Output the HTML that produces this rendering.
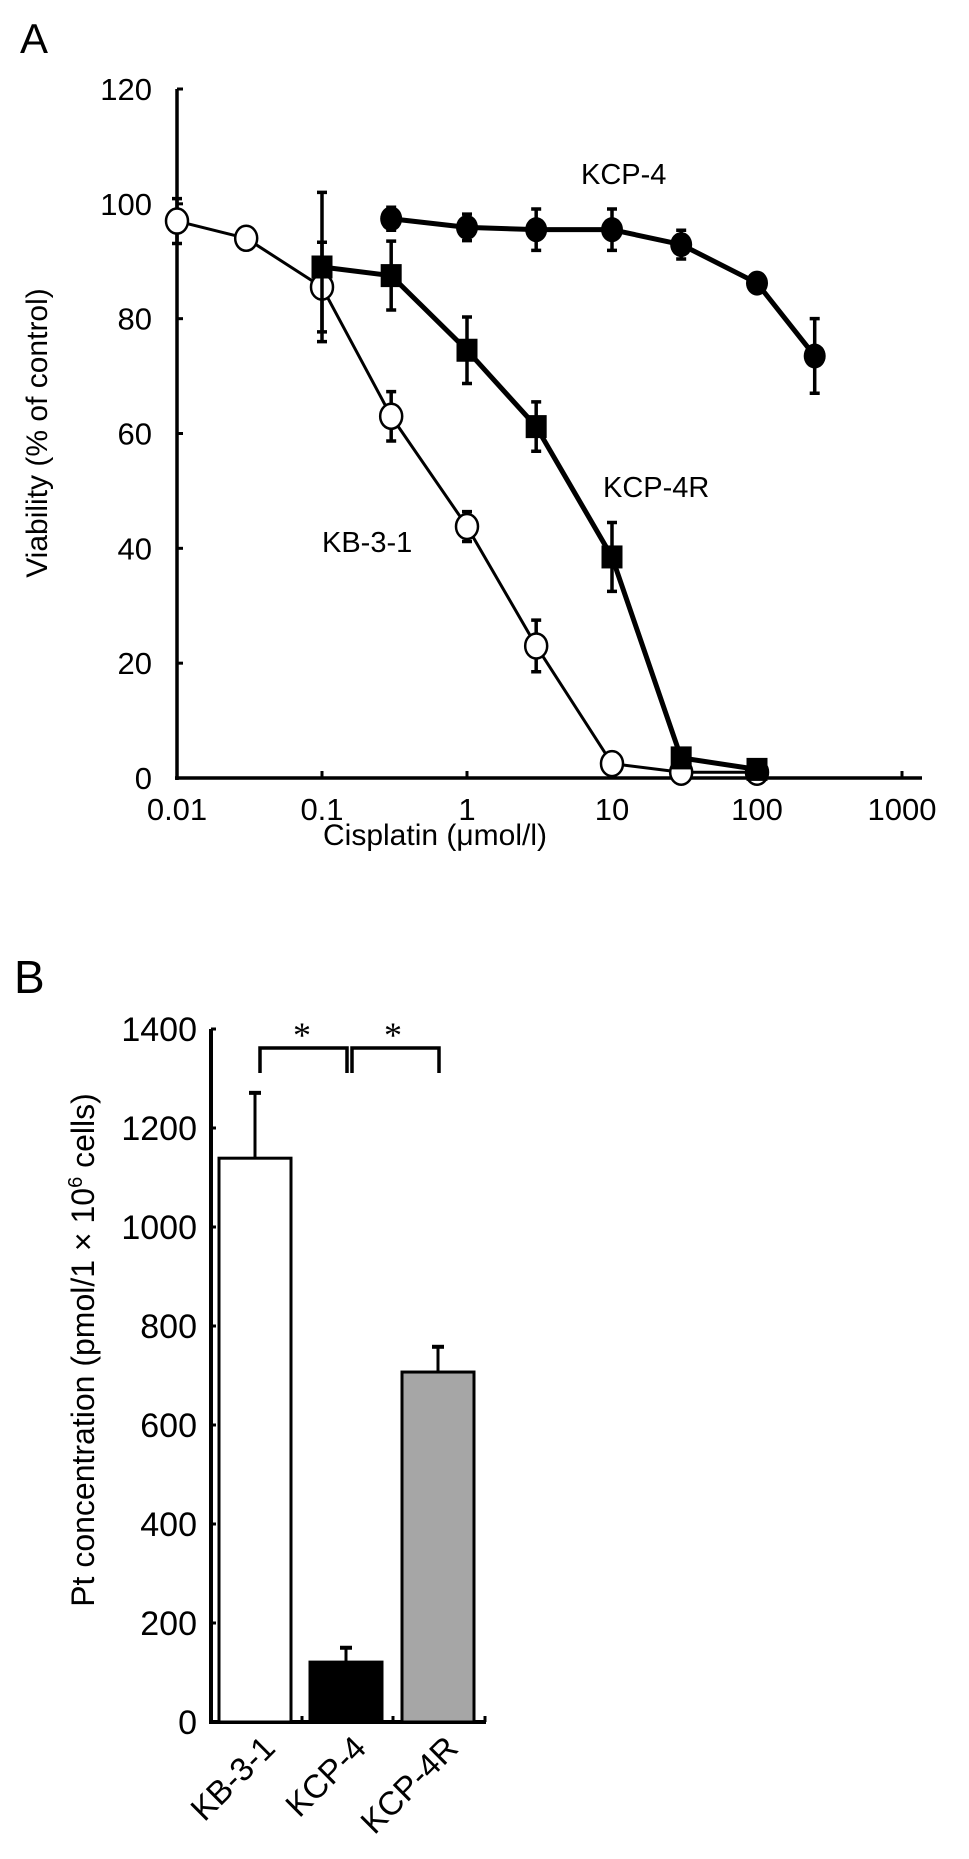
<!DOCTYPE html>
<html><head><meta charset="utf-8"><style>
body{margin:0;background:#fff}
svg{display:block}
text{font-family:"Liberation Sans",Arial,sans-serif;fill:#000}
</style></head><body>
<svg id="fig" width="969" height="1859" viewBox="0 0 969 1859" xmlns="http://www.w3.org/2000/svg">
<text x="20" y="53" font-size="42">A</text>
<text x="14" y="993" font-size="46">B</text>
<g id="pa"></g>
<g id="pb"></g>
</svg>
<script>
// ---------- Panel A data ----------
const xTicksA = [0.01, 0.1, 1, 10, 100, 1000];
const xTickLabelsA = ["0.01", "0.1", "1", "10", "100", "1000"];
const yTicksA = [0, 20, 40, 60, 80, 100, 120];
const kbDose = [0.01, 0.03, 0.1, 0.3, 1, 3, 10, 30, 100];
const kbVal = [97, 94, 85.5, 63, 43.8, 23, 2.5, 1, 1];
const kbErr = [3.9, 1.5, 7.8, 4.3, 2.6, 4.5, 0, 0, 0];
const kcp4rDose = [0.1, 0.3, 1, 3, 10, 30, 100];
const kcp4rVal = [89, 87.5, 74.5, 61.2, 38.5, 3.5, 1.5];
const kcp4rErr = [13, 6, 5.8, 4.3, 6, 0, 0];
const kcp4Dose = [0.3, 1, 3, 10, 30, 100, 250];
const kcp4Val = [97.4, 95.9, 95.5, 95.5, 92.9, 86.2, 73.5];
const kcp4Err = [2, 2.3, 3.6, 3.6, 2.5, 0.5, 6.5];
// ---------- Panel B data ----------
const barCats = ["KB-3-1", "KCP-4", "KCP-4R"];
const barVals = [1139, 121, 707];
const barErrs = [132, 29, 51];
const yTicksB = [0, 200, 400, 600, 800, 1000, 1200, 1400];

const NS = "http://www.w3.org/2000/svg";
function mk(parent, tag, attrs, txt) {
  const e = document.createElementNS(NS, tag);
  for (const k in attrs) e.setAttribute(k, attrs[k]);
  if (txt !== undefined) e.textContent = txt;
  parent.appendChild(e);
  return e;
}
// Panel A axes
const ax0 = 177, decade = 145, ay0 = 778, ayPer = (778 - 89) / 120;
const xA = v => ax0 + (Math.log10(v) + 2) * decade;
const yA = v => ay0 - v * ayPer;
const pa = document.getElementById("pa");
let e;
e = mk(pa, "line", {x1: ax0, y1: yA(120), x2: ax0, y2: ay0 + 2, stroke: "#000", "stroke-width": 3.5});


e = mk(pa, "line", {x1: ax0 - 2, y1: ay0, x2: xA(1000) + 20, y2: ay0, stroke: "#000", "stroke-width": 3.5});


yTicksA.forEach(v => {
  e = mk(pa, "line", {x1: ax0, y1: yA(v), x2: ax0 + 6, y2: yA(v), stroke: "#000", "stroke-width": 3});
  
  
  e = mk(pa, "text", {x: 152, y: yA(v) + 11, "font-size": 31, "text-anchor": "end"}, String(v));
  
  
});
xTicksA.forEach((v, i) => {
  e = mk(pa, "line", {x1: xA(v), y1: ay0, x2: xA(v), y2: ay0 - 7, stroke: "#000", "stroke-width": 3});
  
  
  e = mk(pa, "text", {x: xA(v), y: 820, "font-size": 31, "text-anchor": "middle"}, xTickLabelsA[i]);
  
  
});
e = mk(pa, "text", {x: 0, y: 0, "font-size": 30, "text-anchor": "middle", transform: "translate(47,433) rotate(-90)"}, "Viability (% of control)");


e = mk(pa, "text", {x: 435, y: 845, "font-size": 30, "text-anchor": "middle"}, "Cisplatin (μmol/l)");



function series(dose, val, err, lw, marker, name) {
  const g = mk(pa, "g", {});
  
  
  const pts = dose.map((d, i) => xA(d) + "," + yA(val[i])).join(" ");
  e = mk(g, "polyline", {points: pts, fill: "none", stroke: "#000", "stroke-width": lw, "stroke-linejoin": "round"});
  
  
  dose.forEach((d, i) => {
    if (err[i] > 0) {
      const x = xA(d), y1 = yA(val[i] - err[i]), y2 = yA(val[i] + err[i]);
      e = mk(g, "path", {d: `M${x},${y1}V${y2}M${x - 5},${y1}H${x + 5}M${x - 5},${y2}H${x + 5}`, stroke: "#000", "stroke-width": 3.5, fill: "none"});
      
      
    }
  });
  dose.forEach((d, i) => {
    const x = xA(d), y = yA(val[i]);
    if (marker === "open") e = mk(g, "ellipse", {cx: x, cy: y, rx: 11, ry: 12.5, fill: "#fff", stroke: "#000", "stroke-width": 2.5});
    else if (marker === "filled") e = mk(g, "ellipse", {cx: x, cy: y, rx: 11, ry: 12.5, fill: "#000"});
    else e = mk(g, "rect", {x: x - 10.5, y: y - 11.5, width: 21, height: 23, fill: "#000"});
    
    
  });
}
series(kbDose, kbVal, kbErr, 3, "open", "kb-3-1-series");
series(kcp4rDose, kcp4rVal, kcp4rErr, 5, "square", "kcp-4r-series");
series(kcp4Dose, kcp4Val, kcp4Err, 5, "filled", "kcp-4-series");
e = mk(pa, "text", {x: 581, y: 184, "font-size": 29}, "KCP-4");


e = mk(pa, "text", {x: 603, y: 497, "font-size": 29}, "KCP-4R");


e = mk(pa, "text", {x: 322, y: 552, "font-size": 29}, "KB-3-1");



// Panel B
const pb = document.getElementById("pb");
const bx0 = 211, by0 = 1722, byPer = 0.495;
const yB = v => by0 - v * byPer;
const barLeft = [219, 310, 402], barW = 72;
const fills = ["#fff", "#000", "#a6a6a6"];
e = mk(pb, "line", {x1: bx0, y1: yB(1400), x2: bx0, y2: by0 + 2, stroke: "#000", "stroke-width": 4});


e = mk(pb, "line", {x1: bx0 - 2, y1: by0, x2: 486, y2: by0, stroke: "#000", "stroke-width": 4});


[302, 393, 485].forEach(x => {
  e = mk(pb, "line", {x1: x, y1: by0, x2: x, y2: by0 - 6, stroke: "#000", "stroke-width": 3});
  
  
});
yTicksB.forEach(v => {
  e = mk(pb, "line", {x1: bx0, y1: yB(v), x2: bx0 + 5, y2: yB(v), stroke: "#000", "stroke-width": 3});
  
  
  e = mk(pb, "text", {x: 197, y: yB(v) + 12, "font-size": 34, "text-anchor": "end"}, String(v));
  
  
});
barCats.forEach((c, i) => {
  const x = barLeft[i], top = yB(barVals[i]), cx = x + barW / 2;
  e = mk(pb, "line", {x1: cx, y1: top, x2: cx, y2: yB(barVals[i] + barErrs[i]), stroke: "#000", "stroke-width": 3});
  
  
  e = mk(pb, "line", {x1: cx - 6, y1: yB(barVals[i] + barErrs[i]), x2: cx + 6, y2: yB(barVals[i] + barErrs[i]), stroke: "#000", "stroke-width": 4});
  
  
  e = mk(pb, "rect", {x: x, y: top, width: barW, height: by0 - top, fill: fills[i], stroke: "#000", "stroke-width": 3});
  
  
  e = mk(pb, "text", {x: 0, y: 0, "font-size": 33, "text-anchor": "end", transform: `translate(${cx + 22},${1750}) rotate(-45)`}, c);
  
  
});
e = mk(pb, "path", {d: "M260,1073V1048H347V1073M352,1073V1048H439V1073", fill: "none", stroke: "#000", "stroke-width": 3.5});


[302, 393].forEach(x => {
  e = mk(pb, "text", {x: x, y: 1047, "font-size": 36, "text-anchor": "middle", style: "font-family:'Liberation Serif',serif"}, "*");
  
  
});
e = mk(pb, "text", {x: 0, y: 0, "font-size": 32, "text-anchor": "middle", transform: "translate(94,1350) rotate(-90)"});


e.innerHTML = 'Pt concentration (pmol/1 × 10<tspan dy="-12" font-size="20">6</tspan><tspan dy="12"> cells)</tspan>';
</script>
</body></html>
